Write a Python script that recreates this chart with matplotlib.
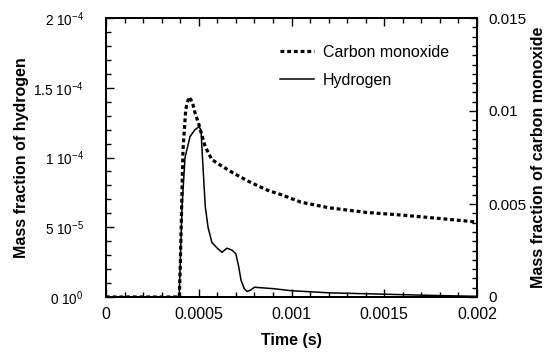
import matplotlib
matplotlib.use("Agg")
import matplotlib.pyplot as plt
from matplotlib.ticker import MultipleLocator, FixedLocator, FixedFormatter

plt.rcParams['font.family'] = ['Liberation Sans', 'DejaVu Sans']
plt.rcParams['mathtext.default'] = 'regular'

# Hydrogen mass fraction (left axis)
t_h2 = [0.0, 0.00039, 0.000395, 0.00041, 0.000426, 0.000453, 0.00048, 0.000501, 0.000512,
        0.00052, 0.000535, 0.00055, 0.000571, 0.0006, 0.000625, 0.000652, 0.00068, 0.0007,
        0.000715, 0.000728, 0.000745, 0.00076, 0.00078, 0.0008, 0.0009, 0.001, 0.0012,
        0.0015, 0.0018, 0.002]
y_h2 = [0.0, 0.0, 2e-6, 6.5e-5, 1.0e-4, 1.15e-4, 1.2e-4, 1.22e-4, 1.2e-4,
        1.0e-4, 6.5e-5, 5.0e-5, 3.9e-5, 3.5e-5, 3.2e-5, 3.5e-5, 3.35e-5, 3.1e-5,
        2.2e-5, 1.2e-5, 6e-6, 4e-6, 5e-6, 7e-6, 6e-6, 4.5e-6, 3e-6,
        2e-6, 1e-6, 5e-7]

# Carbon monoxide mass fraction (right axis)
t_co = [0.0, 0.000395, 0.0004, 0.000415, 0.00043, 0.000447, 0.000465, 0.00048, 0.0005,
        0.000534, 0.00057, 0.000598, 0.000685, 0.000776, 0.000868, 0.00095, 0.00105,
        0.0012, 0.0014, 0.0016, 0.0018, 0.002]
y_co = [0.0, 0.0, 0.0015, 0.0079, 0.0101, 0.01075, 0.0105, 0.0099, 0.0093,
        0.0081, 0.0074, 0.0072, 0.00667, 0.00618, 0.00575, 0.00548, 0.0051,
        0.0048, 0.00455, 0.0044, 0.00422, 0.00403]

x_ticks = [0, 0.0005, 0.001, 0.0015, 0.002]
x_labels = ['0', '0.0005', '0.001', '0.0015', '0.002']
yl_ticks = [0, 5e-5, 1e-4, 1.5e-4, 2e-4]
yl_labels = ['0 10$^{0}$', '5 10$^{-5}$', '1 10$^{-4}$', '1.5 10$^{-4}$', '2 10$^{-4}$']
yr_ticks = [0, 0.005, 0.01, 0.015]
yr_labels = ['0', '0.005', '0.01', '0.015']

W, H = 548, 354
L, R, T, B = 106, 477, 18, 297
fig = plt.figure(figsize=(W/100, H/100), dpi=100)
ax = fig.add_axes([L/W, 1-B/H, (R-L)/W, (B-T)/H])
ax2 = ax.twinx()

l_co, = ax2.plot(t_co, y_co, color='black', lw=2.3, linestyle=(0, (1.2, 0.9)))
l_h2, = ax.plot(t_h2, y_h2, color='black', lw=1.1)

ax.set_xlim(0, 0.002)
ax.set_ylim(0, 2e-4)
ax2.set_ylim(0, 0.015)

fs = 11.5
ax.xaxis.set_major_locator(FixedLocator(x_ticks))
ax.xaxis.set_major_formatter(FixedFormatter(x_labels))
ax.xaxis.set_minor_locator(MultipleLocator(0.0001))
ax.yaxis.set_major_locator(FixedLocator(yl_ticks))
ax.yaxis.set_major_formatter(FixedFormatter(yl_labels))
ax.yaxis.set_minor_locator(MultipleLocator(1e-5))
ax2.yaxis.set_major_locator(FixedLocator(yr_ticks))
ax2.yaxis.set_major_formatter(FixedFormatter(yr_labels))
ax2.yaxis.set_minor_locator(MultipleLocator(0.0005))

ax.tick_params(axis='x', which='both', direction='in', top=True, labelsize=fs, pad=7)
ax.tick_params(axis='y', which='both', direction='in', right=False, labelsize=9.8, pad=16)
ax2.tick_params(axis='y', which='both', direction='in', labelsize=11, pad=8)
for a in (ax, ax2):
    a.tick_params(which='major', length=6, width=1.0)
    a.tick_params(which='minor', length=3.5, width=1.0)
    for s in a.spines.values():
        s.set_linewidth(1.3)

def to_ax(px, py):
    return (px - L) / (R - L), (B - py) / (B - T)

ax.set_xlabel('Time (s)', fontsize=fs, fontweight='bold')
ax.xaxis.set_label_coords(*to_ax((L + R) / 2, 340), transform=ax.transAxes)
ax.xaxis.label.set_va('center')
ax.set_ylabel('Mass fraction of hydrogen', fontsize=fs, fontweight='bold')
ax.yaxis.set_label_coords(*to_ax(21, (T + B) / 2), transform=ax.transAxes)
ax.yaxis.label.set_va('center')
ax2.set_ylabel('Mass fraction of carbon monoxide', fontsize=fs, fontweight='bold')
ax2.yaxis.set_label_coords(*to_ax(538, (T + B) / 2), transform=ax.transAxes)
ax2.yaxis.label.set_va('center')

leg = ax.legend([l_co, l_h2], ['Carbon monoxide', 'Hydrogen'], loc='upper left',
                bbox_to_anchor=to_ax(280, 45), frameon=False, fontsize=fs,
                handlelength=2.1, handletextpad=0.6, labelspacing=0.8, borderpad=0,
                borderaxespad=0)

fig.savefig('out.png', dpi=100)
